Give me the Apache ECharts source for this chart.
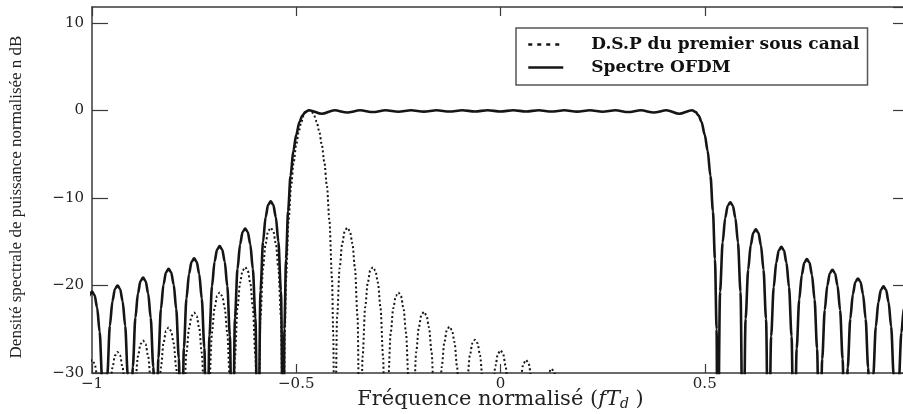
<!DOCTYPE html>
<html><head><meta charset="utf-8">
<script src="https://cdn.jsdelivr.net/npm/echarts@6/dist/echarts.min.js"></script>
<style>html,body{margin:0;padding:0;background:#fff}#c{width:903px;height:414px}</style>
</head><body><div id="c"></div>
<script>
// ---- data ----
const xTicks = [-1, -0.5, 0, 0.5, 1];
const yTicks = [-30, -20, -10, 0, 10];
const seriesNames = ['D.S.P du premier sous canal', 'Spectre OFDM'];

// OFDM spectrum (solid): normalized frequency / dB  (values below -30 lie under the axis)
const ofdmFreq = [
  -1.03125, -1.025, -1.0188, -1.0125, -1.0063, -1.0, -0.9938, -0.9875, -0.9813, -0.975,
  -0.96875, -0.9625, -0.9563, -0.95, -0.9438, -0.9375, -0.9313, -0.925, -0.9188, -0.9125,
  -0.90625, -0.9, -0.8938, -0.8875, -0.8813, -0.875, -0.8688, -0.8625, -0.8563, -0.85,
  -0.84375, -0.8375, -0.8313, -0.825, -0.8188, -0.8125, -0.8063, -0.8, -0.7938, -0.7875,
  -0.78125, -0.775, -0.7688, -0.7625, -0.7563, -0.75, -0.7438, -0.7375, -0.7313, -0.725,
  -0.71875, -0.7125, -0.7063, -0.7, -0.6938, -0.6875, -0.6813, -0.675, -0.6688, -0.6625,
  -0.65625, -0.65, -0.6438, -0.6375, -0.6313, -0.625, -0.6188, -0.6125, -0.6063, -0.6,
  -0.59375, -0.5875, -0.5813, -0.575, -0.5688, -0.5625, -0.5563, -0.55, -0.5438, -0.5375,
  -0.53125, -0.529, -0.525, -0.52, -0.514, -0.507, -0.5, -0.492, -0.485, -0.478, -0.4688,
  -0.4375, -0.4063, -0.375, -0.3438, -0.3125, -0.2813, -0.25, -0.2188, -0.1875, -0.1563,
  -0.125, -0.0938, -0.0625, -0.0313, 0, 0.0313, 0.0625, 0.0938, 0.125, 0.1563,
  0.1875, 0.2188, 0.25, 0.2813, 0.3125, 0.3438, 0.375, 0.4063, 0.4375, 0.4688,
  0.478, 0.485, 0.492, 0.5, 0.507, 0.514, 0.52, 0.525, 0.529, 0.53125,
  0.5375, 0.5438, 0.55, 0.5563, 0.5625, 0.5688, 0.575, 0.5813, 0.5875, 0.59375,
  0.6, 0.6063, 0.6125, 0.6188, 0.625, 0.6313, 0.6375, 0.6438, 0.65, 0.65625,
  0.6625, 0.6688, 0.675, 0.6813, 0.6875, 0.6938, 0.7, 0.7063, 0.7125, 0.71875,
  0.725, 0.7313, 0.7375, 0.7438, 0.75, 0.7563, 0.7625, 0.7688, 0.775, 0.78125,
  0.7875, 0.7938, 0.8, 0.8063, 0.8125, 0.8188, 0.825, 0.8313, 0.8375, 0.84375,
  0.85, 0.8563, 0.8625, 0.8688, 0.875, 0.8813, 0.8875, 0.8938, 0.9, 0.90625,
  0.9125, 0.9188, 0.925, 0.9313, 0.9375, 0.9438, 0.95, 0.9563, 0.9625, 0.96875,
  0.975, 0.9813, 0.9875, 0.9938, 1.0
];
const ofdmDb = [
  -45, -30.9, -25.3, -22.5, -21.1, -20.7, -21.1, -22.5, -25.3, -30.9,
  -45, -30.2, -24.6, -21.8, -20.4, -20.0, -20.4, -21.8, -24.6, -30.2,
  -45, -29.3, -23.7, -20.9, -19.5, -19.1, -19.5, -20.9, -23.7, -29.3,
  -45, -28.3, -22.7, -19.9, -18.5, -18.1, -18.5, -19.9, -22.7, -28.3,
  -45, -27.1, -21.5, -18.7, -17.3, -16.9, -17.3, -18.7, -21.5, -27.1,
  -45, -25.7, -20.1, -17.3, -15.9, -15.5, -15.9, -17.3, -20.1, -25.7,
  -45, -23.7, -18.1, -15.3, -13.9, -13.5, -13.9, -15.3, -18.1, -23.7,
  -45, -20.6, -15.0, -12.2, -10.8, -10.4, -10.8, -12.2, -15.0, -20.6,
  -45, -25, -17, -11.5, -7.5, -4.6, -2.8, -1.3, -0.6, -0.2, 0,
  -0.4, 0, -0.25, 0, -0.2, 0, -0.17, 0, -0.15, 0,
  -0.14, 0, -0.13, 0, -0.13, 0, -0.13, 0, -0.14, 0,
  -0.15, 0, -0.17, 0, -0.2, 0, -0.25, 0, -0.4, 0,
  -0.2, -0.6, -1.3, -2.8, -4.6, -7.5, -11.5, -17, -25, -45,
  -20.7, -15.1, -12.3, -10.9, -10.5, -10.9, -12.3, -15.1, -20.7, -45,
  -23.8, -18.2, -15.4, -14.0, -13.6, -14.0, -15.4, -18.2, -23.8, -45,
  -25.8, -20.2, -17.4, -16.0, -15.6, -16.0, -17.4, -20.2, -25.8, -45,
  -27.2, -21.6, -18.8, -17.4, -17.0, -17.4, -18.8, -21.6, -27.2, -45,
  -28.4, -22.8, -20.0, -18.6, -18.2, -18.6, -20.0, -22.8, -28.4, -45,
  -29.4, -23.8, -21.0, -19.6, -19.2, -19.6, -21.0, -23.8, -29.4, -45,
  -30.3, -24.7, -21.9, -20.5, -20.1, -20.5, -21.9, -24.7, -30.3, -45,
  -31.0, -25.4, -22.6, -21.2, -20.8
];

// PSD of the first sub-channel (dotted)
const dspFreq = [
  -1.03125, -1.025, -1.0188, -1.0125, -1.0063, -1.0, -0.9938, -0.9875, -0.9813, -0.975,
  -0.96875, -0.9625, -0.9563, -0.95, -0.9438, -0.9375, -0.9313, -0.925, -0.9188, -0.9125,
  -0.90625, -0.9, -0.8938, -0.8875, -0.8813, -0.875, -0.8688, -0.8625, -0.8563, -0.85,
  -0.84375, -0.8375, -0.8313, -0.825, -0.8188, -0.8125, -0.8063, -0.8, -0.7938, -0.7875,
  -0.78125, -0.775, -0.7688, -0.7625, -0.7563, -0.75, -0.7438, -0.7375, -0.7313, -0.725,
  -0.71875, -0.7125, -0.7063, -0.7, -0.6938, -0.6875, -0.6813, -0.675, -0.6688, -0.6625,
  -0.65625, -0.65, -0.6438, -0.6375, -0.6313, -0.625, -0.6188, -0.6125, -0.6063, -0.6,
  -0.59375, -0.5875, -0.5813, -0.575, -0.5688, -0.5625, -0.5563, -0.55, -0.5438, -0.5375,
  -0.53125, -0.5281, -0.525, -0.5188, -0.5125, -0.5063, -0.5, -0.4938, -0.4875, -0.4813, -0.475,
  -0.4688,
  -0.4625, -0.4563, -0.45, -0.4438, -0.4375, -0.4313, -0.425, -0.4188, -0.4125, -0.4094, -0.40625,
  -0.4, -0.3938, -0.3875, -0.3813, -0.375, -0.3688, -0.3625, -0.3563, -0.35, -0.34375,
  -0.3375, -0.3313, -0.325, -0.3188, -0.3125, -0.3063, -0.3, -0.2938, -0.2875, -0.28125,
  -0.275, -0.2688, -0.2625, -0.2563, -0.25, -0.2438, -0.2375, -0.2313, -0.225, -0.21875,
  -0.2125, -0.2063, -0.2, -0.1938, -0.1875, -0.1813, -0.175, -0.1688, -0.1625, -0.15625,
  -0.15, -0.1438, -0.1375, -0.1313, -0.125, -0.1188, -0.1125, -0.1063, -0.1, -0.09375,
  -0.0875, -0.0813, -0.075, -0.0688, -0.0625, -0.0563, -0.05, -0.0438, -0.0375, -0.03125,
  -0.025, -0.0188, -0.0125, -0.0063, 0, 0.0063, 0.0125, 0.0188, 0.025, 0.03125,
  0.0375, 0.0438, 0.05, 0.0563, 0.0625, 0.0688, 0.075, 0.0813, 0.0875, 0.09375,
  0.1, 0.1063, 0.1125, 0.1188, 0.125, 0.1313, 0.1375, 0.1438, 0.15, 0.15625
];
const dspDb = [
  -45, -38.7, -33.1, -30.3, -28.9, -28.5, -28.9, -30.3, -33.1, -38.7,
  -45, -37.8, -32.2, -29.4, -28.0, -27.6, -28.0, -29.4, -32.2, -37.8,
  -45, -36.5, -30.9, -28.1, -26.7, -26.3, -26.7, -28.1, -30.9, -36.5,
  -45, -35.0, -29.4, -26.6, -25.2, -24.8, -25.2, -26.6, -29.4, -35.0,
  -45, -33.3, -27.7, -24.9, -23.5, -23.1, -23.5, -24.9, -27.7, -33.3,
  -45, -31.0, -25.4, -22.6, -21.2, -20.8, -21.2, -22.6, -25.4, -31.0,
  -45, -28.1, -22.5, -19.7, -18.3, -17.9, -18.3, -19.7, -22.5, -28.1,
  -45, -23.6, -18.0, -15.2, -13.8, -13.4, -13.8, -15.2, -18.0, -23.6,
  -45, -25.6, -19.2, -12.6, -8.6, -5.9, -3.9, -2.4, -1.3, -0.6, -0.1,
  0,
  -0.1, -0.6, -1.3, -2.4, -3.9, -5.9, -8.6, -12.6, -19.2, -25.6, -45,
  -23.6, -18.0, -15.2, -13.8, -13.4, -13.8, -15.2, -18.0, -23.6, -45,
  -28.1, -22.5, -19.7, -18.3, -17.9, -18.3, -19.7, -22.5, -28.1, -45,
  -31.0, -25.4, -22.6, -21.2, -20.8, -21.2, -22.6, -25.4, -31.0, -45,
  -33.2, -27.6, -24.8, -23.4, -23.0, -23.4, -24.8, -27.6, -33.2, -45,
  -34.9, -29.3, -26.5, -25.1, -24.7, -25.1, -26.5, -29.3, -34.9, -45,
  -36.4, -30.8, -28.0, -26.6, -26.2, -26.6, -28.0, -30.8, -36.4, -45,
  -37.6, -32.0, -29.2, -27.8, -27.4, -27.8, -29.2, -32.0, -37.6, -45,
  -38.7, -33.1, -30.3, -28.9, -28.5, -28.9, -30.3, -33.1, -38.7, -45,
  -39.7, -34.1, -31.3, -29.9, -29.5, -29.9, -31.3, -34.1, -39.7, -45
];

// ---- chart ----
const pair = (xs, ys) => xs.map((x, i) => [x, ys[i]]);
const ink = '#151515';
const axisColor = '#3a3a3a';
const tickFont = 'DejaVu Serif';
const fmt = v => String(v).replace('-', '\u2212');

const chart = echarts.init(document.getElementById('c'), null, {renderer: 'canvas'});
chart.setOption({
  animation: false,
  backgroundColor: '#fff',
  grid: {left: 92, width: 817, top: 7, height: 366, containLabel: false, outerBoundsMode: 'none'},
  legend: {
    orient: 'vertical', left: 516, top: 28,
    padding: [8, 8, 9, 11], itemGap: 6,
    itemWidth: 35, itemHeight: 14,
    borderColor: '#555', borderWidth: 1.5, backgroundColor: '#fff',
    itemStyle: {opacity: 0},
    textStyle: {fontFamily: 'DejaVu Serif', fontWeight: 'bold', fontSize: 17, color: '#111', padding: [0, 0, 0, 23]},
    data: [
      {name: seriesNames[0], lineStyle: {type: [4, 5], width: 2.5, color: ink}},
      {name: seriesNames[1], lineStyle: {width: 2.5, color: ink}}
    ]
  },
  xAxis: [
    {type: 'value', min: xTicks[0], max: xTicks[xTicks.length - 1], interval: 0.5, position: 'bottom',
     splitLine: {show: false},
     axisLine: {onZero: false, lineStyle: {color: axisColor, width: 1.5}},
     axisTick: {inside: true, length: 9, lineStyle: {color: axisColor, width: 1.2}},
     axisLabel: {formatter: v => xTicks.includes(v) ? fmt(v) : '', fontFamily: tickFont, fontSize: 15, color: '#222', margin: 4},
     name: '{a|Fréquence normalisé (}{i|fT}{s|d}{a| )}',
     nameLocation: 'middle', nameGap: 15, nameMoveOverlap: false,
     nameTextStyle: {rich: {
       a: {fontFamily: 'DejaVu Serif', fontSize: 21, color: '#222', lineHeight: 24},
       i: {fontFamily: 'DejaVu Serif', fontStyle: 'italic', fontSize: 21, color: '#222', lineHeight: 24},
       s: {fontFamily: 'DejaVu Serif', fontStyle: 'italic', fontSize: 14, color: '#222', lineHeight: 24, padding: [9, 0, 0, 0]}
     }}},
    {type: 'value', min: xTicks[0], max: xTicks[xTicks.length - 1], interval: 0.5, position: 'top',
     splitLine: {show: false},
     axisLine: {onZero: false, lineStyle: {color: axisColor, width: 1.5}},
     axisTick: {inside: true, length: 9, lineStyle: {color: axisColor, width: 1.2}},
     axisLabel: {show: false}}
  ],
  yAxis: [
    {type: 'value', min: yTicks[0], max: 11.8, interval: 10, position: 'left',
     splitLine: {show: false},
     axisLine: {onZero: false, lineStyle: {color: axisColor, width: 1.5}},
     axisTick: {inside: true, length: 16, lineStyle: {color: axisColor, width: 1.2}},
     axisLabel: {showMaxLabel: false, formatter: v => yTicks.includes(v) ? fmt(v) : '', fontFamily: tickFont, fontSize: 15, color: '#222', margin: 8},
     name: 'Densité spectrale de puissance normalisée n dB',
     nameLocation: 'middle', nameGap: 67, nameMoveOverlap: false,
     nameTextStyle: {fontFamily: 'Liberation Serif', fontSize: 17, color: '#222', padding: [0, 14, 0, 0]}},
    {type: 'value', min: yTicks[0], max: 11.8, interval: 10, position: 'right',
     splitLine: {show: false},
     axisLine: {onZero: false, lineStyle: {color: axisColor, width: 1.5}},
     axisTick: {inside: true, length: 16, lineStyle: {color: axisColor, width: 1.2}},
     axisLabel: {show: false}}
  ],
  series: [
    {name: seriesNames[0], type: 'line', xAxisIndex: 0, yAxisIndex: 0,
     data: pair(dspFreq, dspDb), showSymbol: false, symbol: 'none', smooth: 0.3, smoothMonotone: 'x', clip: true,
     itemStyle: {color: ink},
     lineStyle: {color: ink, width: 2, type: [2, 2.5]}, z: 3},
    {name: seriesNames[1], type: 'line', xAxisIndex: 0, yAxisIndex: 0,
     data: pair(ofdmFreq, ofdmDb), showSymbol: false, symbol: 'none', smooth: 0.3, smoothMonotone: 'x', clip: true,
     itemStyle: {color: ink},
     lineStyle: {color: ink, width: 2.6}, z: 4}
  ]
});
</script>
</body></html>
